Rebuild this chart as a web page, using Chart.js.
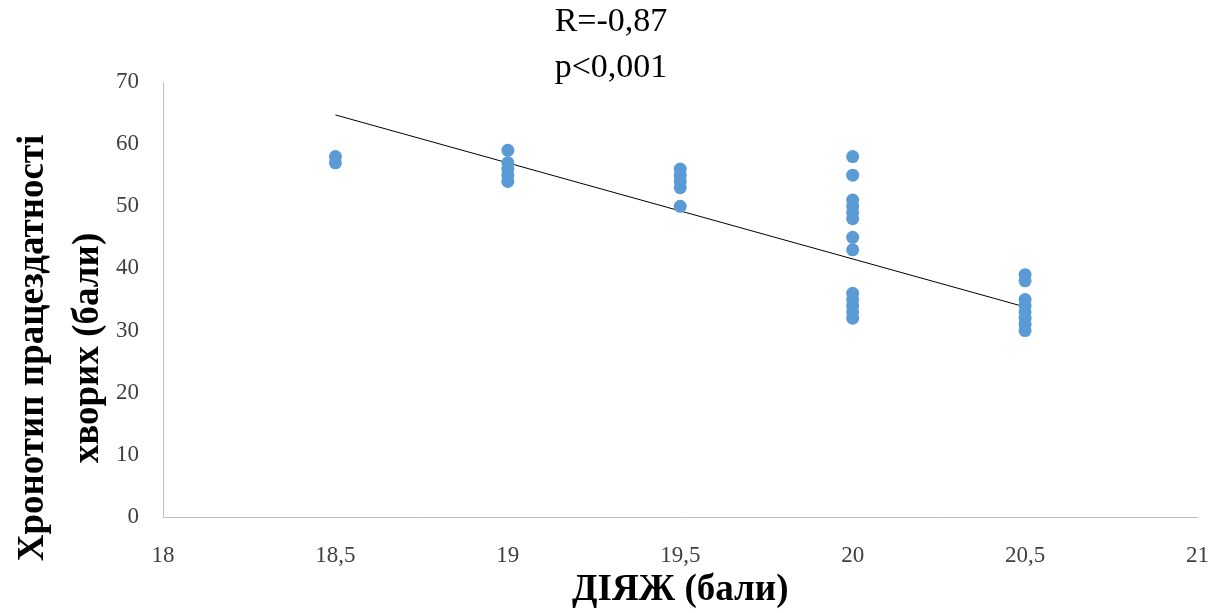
<!DOCTYPE html>
<html>
<head>
<meta charset="utf-8">
<script src="https://cdn.jsdelivr.net/npm/chart.js@4.4.0/dist/chart.umd.min.js"></script>
<style>
  html, body { margin: 0; padding: 0; background: #fff; }
  #wrap { width: 1226px; height: 613px; }
</style>
</head>
<body>
<div id="wrap"><canvas id="myChart" width="1226" height="613"></canvas></div>
<script>
"use strict"

// scores on the x axis (ДІЯЖ) and matching chronotype scores
let groupX = [18.5, 19, 19.5, 20, 20.5];
let groupY = [
    [58, 57],
    [59, 57, 56, 55, 54],
    [56, 55, 54, 53, 50],
    [58, 55, 51, 50, 49, 48, 45, 43, 36, 35, 34, 33, 32],
    [39, 38, 35, 34, 33, 32, 31, 30]
];

// trend line ends
let trendX = [18.5, 20.5];
let trendY = [64.7, 33.8];

let titleLines = ['R=-0,87', 'p<0,001'];
let yTitleLines = ['Хронотип працездатності', 'хворих (бали)'];
let xTitle = 'ДІЯЖ (бали)';

let points = [];
for (let i = 0; i < groupX.length; i++) {
    for (let j = 0; j < groupY[i].length; j++) {
        points.push({ x: groupX[i], y: groupY[i][j] });
    }
}

let trend = [];
for (let i = 0; i < trendX.length; i++) {
    trend.push({ x: trendX[i], y: trendY[i] });
}

const serif = "'Liberation Serif', 'Times New Roman', serif";

// draws the top note and the two-line y title
const extraText = {
    id: 'extraText',
    afterDraw(chart) {
        const ctx = chart.ctx;
        const area = chart.chartArea;
        ctx.save();
        ctx.fillStyle = '#000';
        ctx.textAlign = 'center';
        ctx.textBaseline = 'middle';
        ctx.font = '34px ' + serif;
        ctx.fillText(titleLines[0], 611, 22);
        ctx.fillText(titleLines[1], 611, 68);

        ctx.font = 'bold 37px ' + serif;
        ctx.translate(area.left - 130, area.top + 266);
        ctx.rotate(-Math.PI / 2);
        ctx.fillText(yTitleLines[0], 0, 0);
        ctx.fillText(yTitleLines[1], 0, 55);
        ctx.restore();
    }
};

const config = {
    type: 'scatter',
    data: {
        datasets: [{
            label: 'points',
            data: points,
            backgroundColor: '#5b9bd5',
            borderColor: '#5b9bd5',
            borderWidth: 0,
            pointRadius: 6.5,
            pointHoverRadius: 6.5
        },
        {
            label: 'trend',
            type: 'line',
            data: trend,
            borderColor: '#000',
            borderWidth: 1,
            pointRadius: 0,
            fill: false
        }]
    },
    options: {
        responsive: false,
        animation: false,
        events: [],
        layout: {
            padding: { top: 82, right: 20, left: 0, bottom: 0 }
        },
        plugins: {
            legend: { display: false },
            tooltip: { enabled: false },
            title: { display: false }
        },
        scales: {
            x: {
                type: 'linear',
                min: 18,
                max: 21,
                grid: { display: false },
                border: { display: true, color: '#bfbfbf', width: 1 },
                ticks: {
                    stepSize: 0.5,
                    padding: 17,
                    color: '#404040',
                    font: { family: serif, size: 23 },
                    callback: function (v) { return String(v).replace('.', ','); }
                },
                title: {
                    display: true,
                    text: xTitle,
                    color: '#000',
                    font: { family: serif, size: 37, weight: 'bold' },
                    padding: { top: 6, bottom: 0 }
                },
                afterFit: function (scale) { scale.height = 96; }
            },
            y: {
                min: 0,
                max: 70,
                grid: { display: false },
                border: { display: true, color: '#bfbfbf', width: 1 },
                ticks: {
                    stepSize: 10,
                    padding: 16,
                    color: '#404040',
                    font: { family: serif, size: 23 }
                },
                afterFit: function (scale) { scale.width = 163; }
            }
        }
    },
    plugins: [extraText]
};

let canvasChart = document.getElementById('myChart');
const myChart = new Chart(canvasChart, config);
</script>
</body>
</html>
